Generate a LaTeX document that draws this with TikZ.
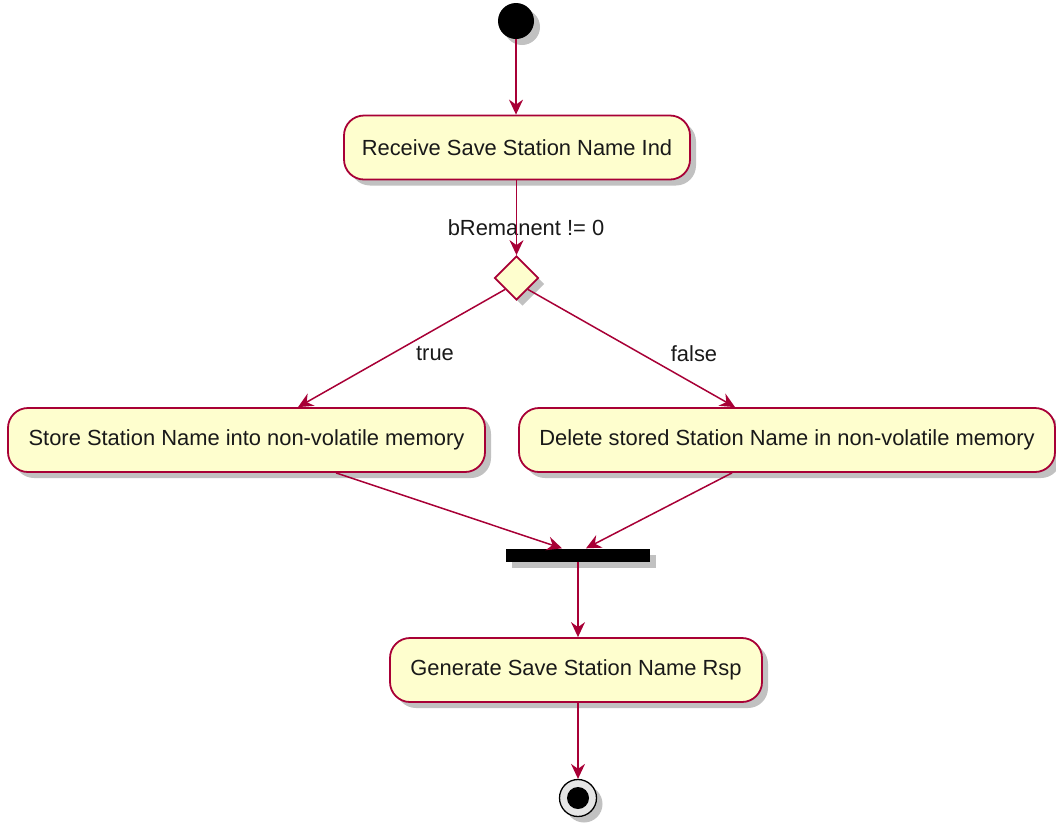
\documentclass[tikz,border=0pt]{standalone}
\usepackage{fontspec}
\setmainfont{Liberation Sans}
\usetikzlibrary{arrows.meta,shapes.geometric,shadows,calc}
\definecolor{pborder}{HTML}{A80036}
\definecolor{pfill}{HTML}{FEFECE}
\tikzset{
  shad/.style={drop shadow={shadow xshift=6pt,shadow yshift=-6pt,opacity=0.35,fill=black!70}},
  act/.style={rectangle,rounded corners=20pt,draw=pborder,fill=pfill,line width=1.8pt,
    minimum height=64pt,inner sep=0pt,font=\fontsize{21.9}{26}\selectfont,text=black!90,shad},
  dec/.style={diamond,draw=pborder,fill=pfill,line width=1.8pt,minimum width=44pt,minimum height=44pt,inner sep=0pt,shad},
  barbox/.style={rectangle,fill=black,minimum width=144pt,minimum height=13pt,inner sep=0pt,shad},
  conn/.style={draw=pborder,line width=1.5pt,-{Stealth[length=15pt,width=14pt,inset=5pt]}},
  lbl/.style={font=\fontsize{21.9}{26}\selectfont,text=black!90,inner sep=0pt}
}
\begin{document}
\begin{tikzpicture}[x=1pt,y=-1pt]
\useasboundingbox (0,0) rectangle (1056,823);
\node[circle,fill=black,minimum size=36pt,inner sep=0pt,shad] (start) at (516,21) {};
\node[act,minimum width=346pt] (recv) at (517,147.5) {\raisebox{-2pt}{Receive Save Station Name Ind}};
\node[dec] (d) at (516.5,278) {};
\node[act,minimum width=477pt] (store) at (246.5,440) {\raisebox{-2pt}{Store Station Name into non-volatile memory}};
\node[act,minimum width=536pt] (del) at (787,440) {\raisebox{-2pt}{Delete stored Station Name in non-volatile memory}};
\node[barbox] (bar) at (578,555) {};
\node[act,minimum width=372pt] (gen) at (576,670) {\raisebox{-2pt}{Generate Save Station Name Rsp}};
\node[circle,fill=black!10,draw=black,line width=1.3pt,minimum size=37pt,inner sep=0pt,shad] (endo) at (578,798) {};
\node[circle,fill=black,minimum size=22pt,inner sep=0pt] (endi) at (578,798) {};
\node[lbl] (lcond) at (526,228) {bRemanent != 0};
\node[lbl] (ltrue) at (435,354) {true};
\node[lbl] (lfalse) at (694,354) {false};
\draw[conn] (start.south) -- (start.south |- recv.north);
\draw[conn] (recv.south -| d.north) -- (d.north);
\draw[conn] (d.south west) -- ($(store.north)+(51.5,0)$);
\draw[conn] (d.south east) -- ($(del.north)+(-52,0)$);
\draw[conn] ($(store.south)+(89.5,0)$) -- ($(bar.north)+(-16,0)$);
\draw[conn] ($(del.south)+(-55,0)$) -- ($(bar.north)+(8,0)$);
\draw[conn] (bar.south) -- (bar.south |- gen.north);
\draw[conn] (gen.south -| endo.north) -- (endo.north);
\end{tikzpicture}
\end{document}
